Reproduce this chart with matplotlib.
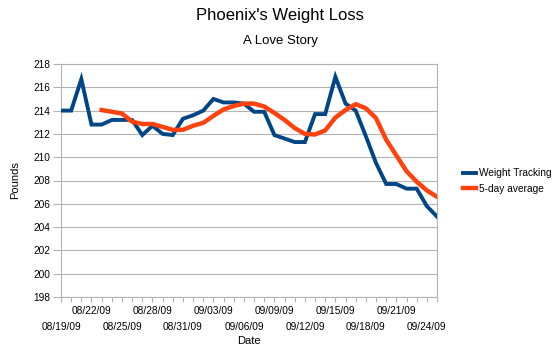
import numpy as np
import matplotlib
matplotlib.use('Agg')
import matplotlib.pyplot as plt

plt.rcParams['font.family'] = ['Liberation Sans', 'DejaVu Sans']

# DATA
dates = ['08/19/09', '08/20/09', '08/21/09', '08/22/09', '08/23/09', '08/24/09',
         '08/25/09', '08/26/09', '08/27/09', '08/28/09', '08/29/09', '08/30/09',
         '08/31/09', '09/01/09', '09/02/09', '09/03/09', '09/04/09', '09/05/09',
         '09/06/09', '09/07/09', '09/08/09', '09/09/09', '09/10/09', '09/11/09',
         '09/12/09', '09/13/09', '09/14/09', '09/15/09', '09/16/09', '09/17/09',
         '09/18/09', '09/19/09', '09/20/09', '09/21/09', '09/22/09', '09/23/09',
         '09/24/09', '09/25/09']
weight = [214.0, 214.0, 216.7, 212.8, 212.8, 213.2, 213.2, 213.2, 211.9, 212.7,
          212.0, 211.9, 213.3, 213.6, 214.0, 215.0, 214.7, 214.7, 214.6, 213.9,
          213.9, 211.9, 211.6, 211.3, 211.3, 213.7, 213.7, 216.9, 214.6, 214.0,
          211.8, 209.5, 207.7, 207.7, 207.3, 207.3, 205.8, 204.9]
avg5 = [np.nan, np.nan, np.nan, np.nan, 214.05, 213.9, 213.75, 213.05, 212.85, 212.85,
        212.6, 212.35, 212.35, 212.7, 212.95, 213.55, 214.1, 214.4, 214.6, 214.6,
        214.35, 213.8, 213.2, 212.5, 212.0, 211.95, 212.3, 213.4, 214.05, 214.55,
        214.2, 213.35, 211.5, 210.15, 208.8, 207.9, 207.15, 206.6]
yticks = list(range(198, 219, 2))

x = np.arange(len(dates))

# PLOT
fig = plt.figure(figsize=(5.58, 3.61), dpi=100)
ax = fig.add_axes([61 / 558, 1 - 297 / 361, 376 / 558, 233 / 361])

ax.plot(x, weight, color='#004586', linewidth=2.8, label='Weight Tracking',
        solid_joinstyle='miter', zorder=3)
ax.plot(x, avg5, color='#ff420e', linewidth=3.2, label='5-day average',
        solid_joinstyle='round', zorder=4)

# AXES
ax.set_xlim(0, len(dates) - 1)
ax.set_ylim(198, 218)
ax.set_yticks(yticks)
ax.set_yticklabels([str(v) for v in yticks])

# staggered date labels: upper row on major ticks, lower row on minor ticks
ax.xaxis.remove_overlapping_locs = False
upper = x[3::6]
ax.set_xticks(upper)
ax.set_xticklabels([dates[i] for i in upper])
ax.set_xticks(x, minor=True)
ax.set_xticklabels([dates[i] if i % 6 == 0 else '' for i in x], minor=True)

ax.tick_params(axis='both', which='both', direction='out', color='#b3b3b3',
               labelsize=7.3, labelcolor='black', width=0.8)
ax.tick_params(axis='y', length=5.5, pad=2)
ax.tick_params(axis='x', which='both', length=3.8)
ax.tick_params(axis='x', which='major', pad=3)
ax.tick_params(axis='x', which='minor', pad=14.5)

ax.grid(axis='y', color='#b3b3b3', linewidth=0.8)
ax.set_axisbelow(True)
for s in ax.spines.values():
    s.set_color('#b3b3b3')
    s.set_linewidth(0.8)

# LABELS
fig.text(0.502, 0.956, "Phoenix's Weight Loss", ha='center', va='center', fontsize=12)
fig.text(0.502, 0.886, 'A Love Story', ha='center', va='center', fontsize=9.5)
fig.text(249 / 558, 1 - 341 / 361, 'Date', ha='center', va='center', fontsize=8)
fig.text(15 / 558, 1 - 180 / 361, 'Pounds', ha='center', va='center', fontsize=8,
         rotation=90)

leg = fig.legend(loc='center left', bbox_to_anchor=(459 / 558, 1 - 181 / 361),
                 frameon=False, fontsize=7.3, handlelength=1.3, handletextpad=0.25,
                 labelspacing=0.55, borderaxespad=0)

fig.savefig('out.png', dpi=100)
